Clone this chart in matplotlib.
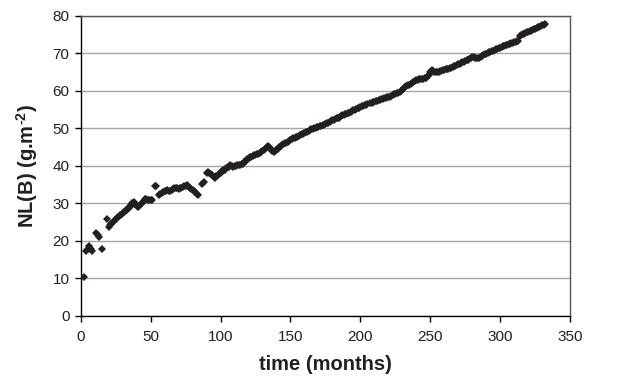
import matplotlib
matplotlib.use("Agg")
import matplotlib.pyplot as plt

plt.rcParams['font.family'] = ['Liberation Sans', 'DejaVu Sans']
plt.rcParams['mathtext.fontset'] = 'custom'
plt.rcParams['mathtext.rm'] = 'Liberation Sans:bold'
plt.rcParams['mathtext.bf'] = 'Liberation Sans:bold'
plt.rcParams['mathtext.default'] = 'bf'

# early, scattered observations
months_early = [2, 4, 5, 6, 7, 8, 11, 12, 13, 15, 19]
nl_early = [10.5, 17.4, 17.9, 18.5, 17.9, 17.3, 22.0, 21.6, 21.1, 17.7, 25.8]

# months 20..51
months_a = list(range(20, 52))
nl_a = [23.6, 24.1, 24.6, 25.0, 25.4, 25.9, 26.1, 26.4, 26.8, 27.0,
        27.4, 27.7, 28.0, 28.3, 28.7, 29.1, 29.6, 30.0, 30.3, 29.8,
        29.2, 29.0, 29.4, 29.8, 30.1, 30.6, 31.1, 31.2, 31.0, 30.8,
        30.9, 31.0]

# the jump near month 53
months_b = [53, 54]
nl_b = [34.6, 34.7]

# months 56..84
months_c = list(range(56, 85))
nl_c = [32.3, 32.6, 32.8, 33.0, 33.2, 33.4, 33.6, 33.4, 33.3, 33.6,
        33.9, 34.1, 34.2, 34.2, 33.9, 34.0, 34.1, 34.3, 34.5, 34.7,
        34.8, 34.5, 34.1, 33.8, 33.5, 33.2, 32.9, 32.6, 32.3]

months_d = [87, 88]
nl_d = [35.2, 35.6]

# months 90..205
months_e = list(range(90, 206))
nl_e = [38.0, 38.3, 38.1, 37.8, 37.5, 37.0, 36.8, 37.3, 37.6, 37.9,
        38.2, 38.5, 38.8, 39.0, 39.3, 39.6, 39.8, 40.1, 39.9, 39.7,
        39.9, 40.0, 40.1, 40.2, 40.3, 40.5, 40.6, 40.9, 41.3, 41.7,
        42.0, 42.4, 42.3, 42.5, 42.8, 43.0, 43.2, 43.1, 43.3, 43.6,
        43.9, 44.2, 44.6, 45.0, 45.3, 45.0, 44.6, 44.0, 43.8, 44.0,
        44.3, 44.6, 44.9, 45.2, 45.5, 45.8, 46.0, 46.2, 46.4, 46.6,
        46.9, 47.1, 47.3, 47.5, 47.6, 47.8, 48.0, 48.1, 48.4, 48.6,
        48.8, 49.0, 49.1, 49.3, 49.5, 49.7, 49.8, 50.0, 50.1, 50.3,
        50.4, 50.6, 50.7, 50.8, 50.9, 51.1, 51.3, 51.5, 51.7, 51.9,
        52.1, 52.3, 52.4, 52.6, 52.7, 52.8, 53.2, 53.4, 53.5, 53.7,
        53.9, 54.0, 54.1, 54.3, 54.6, 54.8, 54.9, 55.1, 55.3, 55.4,
        55.6, 55.8, 55.9, 56.1, 56.3, 56.4]

# months 207..313
months_f = list(range(207, 314))
nl_f = [56.7, 56.8, 57.0, 57.1, 57.2, 57.3, 57.4, 57.5, 57.7, 57.9,
        58.0, 58.1, 58.2, 58.3, 58.4, 58.6, 58.8, 59.0, 59.1, 59.3,
        59.5, 59.7, 60.0, 60.3, 60.6, 60.9, 61.2, 61.5, 61.6, 61.8,
        62.1, 62.4, 62.6, 62.8, 62.9, 63.0, 63.0, 63.1, 63.2, 63.3,
        63.3, 63.6, 64.2, 64.9, 65.4, 65.3, 65.0, 64.9, 65.0, 65.1,
        65.2, 65.3, 65.4, 65.6, 65.7, 65.8, 65.9, 66.0, 66.1, 66.3,
        66.5, 66.7, 66.9, 67.1, 67.2, 67.4, 67.6, 67.7, 67.9, 68.1,
        68.3, 68.5, 68.7, 68.9, 69.0, 68.8, 68.6, 68.6, 68.8, 69.1,
        69.3, 69.5, 69.7, 69.9, 70.0, 70.2, 70.3, 70.5, 70.6, 70.8,
        71.0, 71.2, 71.3, 71.5, 71.6, 71.8, 72.0, 72.1, 72.3, 72.4,
        72.5, 72.7, 72.8, 73.0, 73.1, 73.2, 73.3]

# months 314..332
months_g = list(range(314, 333))
nl_g = [74.7, 74.9, 75.1, 75.2, 75.4, 75.6, 75.7, 75.9, 76.0, 76.2,
        76.4, 76.5, 76.7, 76.9, 77.0, 77.2, 77.4, 77.5, 77.7]

months = months_early + months_a + months_b + months_c + months_d + months_e + months_f + months_g
nl = nl_early + nl_a + nl_b + nl_c + nl_d + nl_e + nl_f + nl_g

fig = plt.figure(figsize=(6.21, 3.82), dpi=100)
ax = fig.add_axes([0.130, 0.173, 0.788, 0.786])

ax.plot(months, nl, linestyle='none', marker='D', markersize=3.6,
        color='#231f20', markeredgewidth=0, zorder=3)

ax.set_xlim(0, 350)
ax.set_ylim(0, 80)
ax.set_xticks(range(0, 351, 50))
ax.set_yticks(range(0, 81, 10))
ax.yaxis.grid(True, color='#a6a6a6', linewidth=1.0)
ax.set_axisbelow(True)

for side in ['left', 'bottom']:
    ax.spines[side].set_color('#000000')
    ax.spines[side].set_linewidth(1.0)
for side in ['top', 'right']:
    ax.spines[side].set_color('#555555')
    ax.spines[side].set_linewidth(1.0)

ax.tick_params(axis='both', direction='out', length=4, width=1.0,
               labelsize=11, colors='#000000', labelcolor='#231f20', pad=4)
ax.tick_params(axis='x', pad=6)

ax.set_xlabel('time (months)', fontsize=14.5, fontweight='bold', color='#231f20', labelpad=8)
ax.set_ylabel('NL(B) (g.m$^{\\text{-2}}$)', fontsize=14.5, fontweight='bold', color='#231f20', labelpad=9)

fig.savefig('out.png', dpi=100)
